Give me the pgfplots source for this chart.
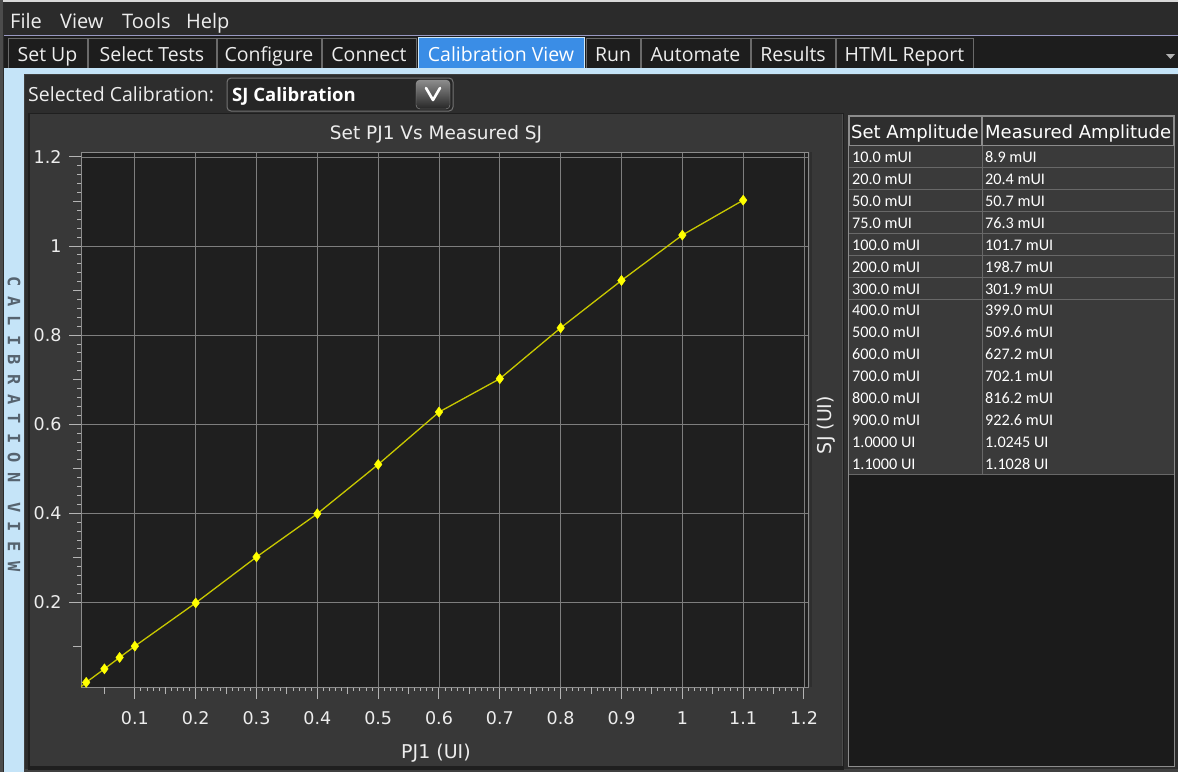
\documentclass[border=0pt]{standalone}
\usepackage{pgfplots}
\pgfplotsset{compat=1.18}
\usepackage{fontspec}
\setmainfont{DejaVu Sans}
\newfontfamily\uifont{Open Sans}
\newfontfamily\cellfont{Carlito}
\newfontfamily\stripfont{DejaVu Sans Mono}

\definecolor{menubg}{HTML}{2B2B2B}
\definecolor{tabbg}{HTML}{1D1D1D}
\definecolor{tabedge}{HTML}{6A6A6A}
\definecolor{activetab}{HTML}{3A8DE6}
\definecolor{paleblue}{HTML}{C5E4F8}
\definecolor{contentbg}{HTML}{2D2D2D}
\definecolor{panelbg}{HTML}{383838}
\definecolor{plotbg}{HTML}{1F1F1F}
\definecolor{gridc}{HTML}{7E7E7E}
\definecolor{framec}{HTML}{8C8C8C}
\definecolor{tickc}{HTML}{B4B4B4}
\definecolor{textc}{HTML}{EDEDED}
\definecolor{cellbg}{HTML}{3A3A3A}
\definecolor{celledge}{HTML}{686868}
\definecolor{tablebg}{HTML}{1B1B1B}
\definecolor{stripc}{HTML}{56636F}
\definecolor{linecol}{HTML}{C8C800}
\definecolor{markcol}{HTML}{FFFF00}

\begin{document}
\begin{tikzpicture}
\useasboundingbox (0,0) rectangle (1178pt,-772pt);
\begin{scope}[x=1pt,y=-1pt]
  % window and menu bar
  \fill[menubg] (0,0) rectangle (1178,772);
  \fill[black!15] (0,0) rectangle (1178,2);
  \fill[black!70] (0,0) rectangle (3,772);
  \begin{scope}[every node/.style={text=textc, inner sep=0pt, anchor=base west, font=\uifont\fontsize{20}{22}\selectfont}]
    \node at (10,28) {File};
    \node at (60,28) {View};
    \node at (122,28) {Tools};
    \node at (186,28) {Help};
  \end{scope}
  % tab strip
  \fill[tabbg] (4,35) rectangle (1178,68);
  \draw[black!60!blue!40, line width=0.8pt] (4,35.5) -- (1178,35.5);
  \foreach \a/\b/\t in {8/87/Set Up, 88/216/Select Tests, 217/321/Configure,
      322/416/Connect, 586/640/Run, 641/750/Automate, 751/835/Results, 836/973/HTML Report}{
    \draw[tabedge, fill=tabbg, line width=1pt] (\a,68) -- (\a,38) -- (\b,38) -- (\b,68);
    \node[text=textc, inner sep=0pt, anchor=base, font=\uifont\fontsize{19.5}{21}\selectfont]
      at ({(\a+\b)/2},61) {\t};
  }
  \fill[activetab] (418,37) rectangle (584,68);
  \draw[paleblue!80, line width=0.8pt] (418,68) -- (418,37) -- (584,37) -- (584,68);
  \node[text=white, inner sep=0pt, anchor=base, font=\uifont\fontsize{19.5}{21}\selectfont]
    at (501,61) {Calibration View};
  \fill[black!30] (1166,54) -- (1175,54) -- (1170.5,59) -- cycle;
  % pale frame around the view
  \fill[paleblue] (4,68) rectangle (1178,772);
  \fill[black!75] (24,74) rectangle (1178,772);
  \fill[contentbg] (25,75) rectangle (1178,769);
  % vertical caption
  \node[text=stripc, rotate=-90, inner sep=0pt, font=\stripfont\bfseries\fontsize{17}{17}\selectfont\addfontfeature{LetterSpace=55}]
    at (14,424) {CALIBRATION VIEW};
  % calibration selector
  \node[text=textc, inner sep=0pt, anchor=base west, font=\uifont\fontsize{19.5}{22}\selectfont]
    at (28,101) {Selected Calibration:};
  \draw[black!55, fill=black!85, rounded corners=4pt, line width=1pt] (227,78) rectangle (453,111);
  \node[text=white, inner sep=0pt, anchor=base west, font=\uifont\bfseries\fontsize{18.5}{21}\selectfont]
    at (232,101) {SJ Calibration};
  \shade[top color=black!45, bottom color=black!85, rounded corners=4pt, draw=black!40] (416,80) rectangle (450,109);
  \draw[white, line width=2.6pt, line cap=round, line join=round] (426,88) -- (433,100) -- (440,88);
  % chart panel
  \fill[black!88] (28,113) rectangle (844,770);
  \fill[panelbg] (30,114) rectangle (843,766);
  \fill[black!82] (810,152) rectangle (812,687);
  \draw[black!70, line width=1pt] (842,114) -- (842,766);
  % table
  \fill[tablebg] (848,115) rectangle (1175,767);
  \draw[framec, line width=1.2pt] (848.5,115.5) rectangle (1174.5,766.5);
  \fill[black!82] (849,116) rectangle (1174,146);
  \draw[black!45, line width=1.2pt] (849.5,116.5) rectangle (982,146);
  \draw[black!45, line width=1.2pt] (982,116.5) rectangle (1173.5,146);
  \node[text=white, inner sep=0pt, anchor=base west, font=\fontsize{18}{20}\selectfont] at (851,138) {Set Amplitude};
  \node[text=white, inner sep=0pt, anchor=base west, font=\fontsize{18}{20}\selectfont] at (985,138) {Measured Amplitude};
  \foreach \i/\s/\m in {0/10.0 mUI/8.9 mUI, 1/20.0 mUI/20.4 mUI, 2/50.0 mUI/50.7 mUI,
      3/75.0 mUI/76.3 mUI, 4/100.0 mUI/101.7 mUI, 5/200.0 mUI/198.7 mUI,
      6/300.0 mUI/301.9 mUI, 7/400.0 mUI/399.0 mUI, 8/500.0 mUI/509.6 mUI,
      9/600.0 mUI/627.2 mUI, 10/700.0 mUI/702.1 mUI, 11/800.0 mUI/816.2 mUI,
      12/900.0 mUI/922.6 mUI, 13/1.0000 UI/1.0245 UI, 14/1.1000 UI/1.1028 UI}{
    \pgfmathsetmacro{\top}{146+21.93*\i}
    \pgfmathsetmacro{\bot}{146+21.93*(\i+1)}
    \fill[cellbg] (849,\top) rectangle (1174,\bot);
    \draw[celledge, line width=1pt] (849,\bot) -- (1174,\bot);
    \draw[celledge, line width=1pt] (982,\top) -- (982,\bot);
    \node[text=white, inner sep=0pt, anchor=base west, font=\cellfont\fontsize{16.2}{18}\selectfont]
      at (852,\bot-5.5) {\s};
    \node[text=white, inner sep=0pt, anchor=base west, font=\cellfont\fontsize{16.2}{18}\selectfont]
      at (985,\bot-5.5) {\m};
  }
\end{scope}

\begin{axis}[
  at={(81pt,-687pt)}, anchor=south west,
  width=727pt, height=535pt, scale only axis,
  xmin=0.0115, xmax=1.2066, ymin=0.01, ymax=1.211,
  axis background/.style={fill=plotbg},
  axis line style={draw=framec, line width=1pt},
  xtick={0.1,0.2,0.3,0.4,0.5,0.6,0.7,0.8,0.9,1,1.1,1.2},
  ytick={0.2,0.4,0.6,0.8,1,1.2},
  minor x tick num=9, minor y tick num=9,
  extra x ticks={0.05,0.15,0.25,0.35,0.45,0.55,0.65,0.75,0.85,0.95,1.05,1.15},
  extra x tick labels={},
  extra x tick style={grid=none, major tick length=7pt},
  extra y ticks={0.1,0.3,0.5,0.7,0.9,1.1},
  extra y tick labels={},
  extra y tick style={grid=none, major tick length=8pt},
  tick pos=left, tick align=outside,
  major tick length=12pt, minor tick length=4pt,
  every tick/.style={draw=tickc, line width=1pt},
  grid=major, major grid style={draw=gridc, line width=0.8pt},
  /pgf/number format/assume math mode=true,
  ticklabel style={text=textc, font=\fontsize{17.5}{20}\selectfont},
  xticklabel style={yshift=-9pt},
  yticklabel style={xshift=-4pt},
  title={Set PJ1 Vs Measured SJ},
  title style={at={(0.5,1)}, anchor=center, yshift=12pt, xshift=-8.5pt,
    text=textc, font=\fontsize{18.5}{20}\selectfont},
  xlabel={PJ1 (UI)},
  xlabel style={at={(0.5,0)}, anchor=center, yshift=-66pt, xshift=-8.5pt,
    text=textc, font=\fontsize{19}{20}\selectfont},
  ylabel={SJ (UI)},
  ylabel style={at={(1,0.5)}, anchor=center, xshift=-5.5pt, yshift=-18pt,
    text=textc, font=\fontsize{19}{20}\selectfont},
  clip=true,
]
\addplot[color=linecol, line width=1.3pt, mark=diamond*, mark size=5pt,
  mark options={fill=markcol, draw=markcol, line width=0.5pt}]
  coordinates {
  (0.010,0.0089) (0.020,0.0204) (0.050,0.0507) (0.075,0.0763)
  (0.100,0.1017) (0.200,0.1987) (0.300,0.3019) (0.400,0.3990)
  (0.500,0.5096) (0.600,0.6272) (0.700,0.7021) (0.800,0.8162)
  (0.900,0.9226) (1.000,1.0245) (1.100,1.1028)
  };
\end{axis}
\end{tikzpicture}
\end{document}
